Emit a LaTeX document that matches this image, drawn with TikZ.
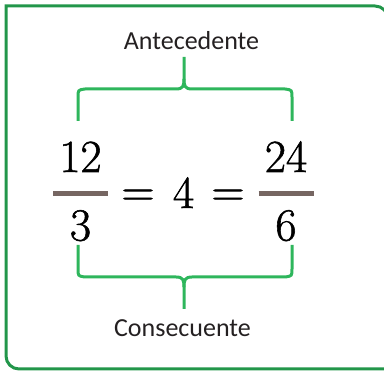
\documentclass[tikz,border=0pt]{standalone}
\usepackage{fontspec}
\newfontfamily\labelfont{Carlito}
\newfontfamily\numfont[FakeBold=1.2]{Latin Modern Roman}
\definecolor{framegreen}{RGB}{34,150,74}
\definecolor{bracegreen}{RGB}{46,182,92}
\definecolor{barbrown}{RGB}{118,102,98}
\definecolor{txt}{RGB}{36,32,33}

\begin{document}
\begin{tikzpicture}[x=1pt, y=-1pt,
  frame/.style={framegreen, line width=3pt},
  brace/.style={bracegreen, line width=3pt},
  fracbar/.style={barbrown, line width=4.5pt},
  digit/.style={anchor=base, inner sep=0pt, font=\numfont\fontsize{46}{50}\selectfont},
  word/.style={anchor=base, inner sep=0pt, txt, font=\labelfont\fontsize{26}{30}\selectfont}]

\useasboundingbox (0,0) rectangle (384,371);
\clip (0,0) rectangle (384,371);

% frame, two round corners
\draw[frame] (6,6) -- (200,6) [rounded corners=13pt] -- (388,6) -- (388,200)
  [sharp corners] -- (388,369) -- (100,369) [rounded corners=13pt] -- (6,369)
  -- (6,200) [sharp corners] -- cycle;

\node[word] (ante) at (191.5,50) {Antecedente};
\node[word] (cons) at (182.5,337) {Consecuente};

% braces
\draw[brace] (78,121) -- (78,97) .. controls (78,90) .. (85,89) -- (176,89)
  .. controls (183,89) and (184,86) .. (184,79) -- (184,57);
\draw[brace] (184,79) .. controls (184,86) and (185,89) .. (192,89) -- (285,89)
  .. controls (292,90) .. (292,97) -- (292,121);
\draw[brace] (78,245) -- (78,269) .. controls (78,276) .. (85,277) -- (176,277)
  .. controls (183,277) and (184,280) .. (184,287) -- (184,309);
\draw[brace] (184,287) .. controls (184,280) and (185,277) .. (192,277) -- (285,277)
  .. controls (292,276) .. (292,269) -- (292,245);

% fractions
\foreach \n/\d/\x in {12/3/80.5, 24/6/286} {
  \node[digit] (num\n) at (\x,172) {\n};
  \node[digit] (den\d) at (\x,240.5) {\d};
  \draw[fracbar] (\x-27.5,193.5) -- (\x+27.5,193.5);
}
\node[digit] (eqa) at (138,206) {=};
\node[digit] (four) at (183.5,208) {4};
\node[digit] (eqb) at (228,206) {=};

\end{tikzpicture}
\end{document}
